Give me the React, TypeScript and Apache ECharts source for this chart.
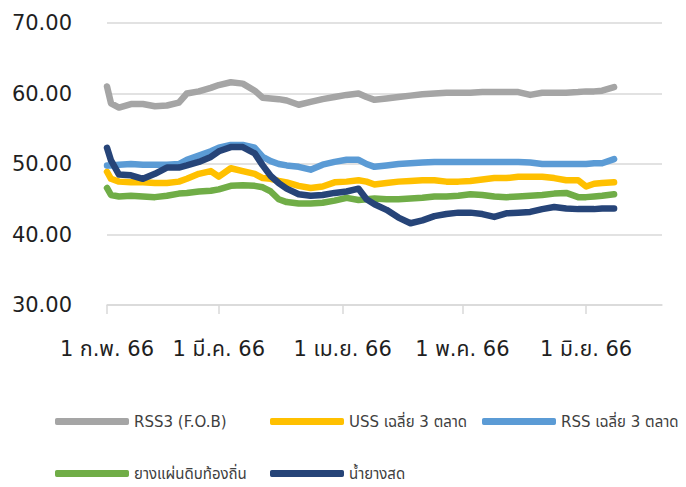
import React, { useEffect, useRef } from "react";
import * as echarts from "echarts";

const dates = [
  "2023-02-01", "2023-02-02", "2023-02-04", "2023-02-07", "2023-02-10", "2023-02-13",
  "2023-02-16", "2023-02-19", "2023-02-21", "2023-02-24", "2023-02-27", "2023-03-01",
  "2023-03-04", "2023-03-07", "2023-03-10", "2023-03-12", "2023-03-14", "2023-03-16",
  "2023-03-18", "2023-03-21", "2023-03-24", "2023-03-27", "2023-03-30", "2023-04-02",
  "2023-04-05", "2023-04-07", "2023-04-09", "2023-04-12", "2023-04-15", "2023-04-18",
  "2023-04-21", "2023-04-24", "2023-04-27", "2023-04-30", "2023-05-03", "2023-05-06",
  "2023-05-09", "2023-05-12", "2023-05-15", "2023-05-18", "2023-05-21", "2023-05-24",
  "2023-05-27", "2023-05-30", "2023-06-01", "2023-06-03", "2023-06-05", "2023-06-08",
];

const rss3Fob = [
  61.0, 58.6, 58.0, 58.5, 58.5, 58.2, 58.3, 58.7, 60.0, 60.3, 60.8, 61.2,
  61.6, 61.4, 60.4, 59.4, 59.3, 59.2, 59.0, 58.4, 58.8, 59.2, 59.5, 59.8,
  60.0, 59.5, 59.1, 59.3, 59.5, 59.7, 59.9, 60.0, 60.1, 60.1, 60.1, 60.2,
  60.2, 60.2, 60.2, 59.8, 60.1, 60.1, 60.1, 60.2, 60.3, 60.3, 60.4, 60.9,
];

const ussAvg = [
  48.9, 47.9, 47.5, 47.4, 47.4, 47.3, 47.3, 47.5, 47.9, 48.6, 49.0, 48.2,
  49.4, 49.0, 48.6, 48.0, 47.9, 47.6, 47.4, 46.9, 46.6, 46.8, 47.4, 47.5,
  47.7, 47.5, 47.1, 47.3, 47.5, 47.6, 47.7, 47.7, 47.5, 47.5, 47.6, 47.8,
  48.0, 48.0, 48.2, 48.2, 48.2, 48.0, 47.7, 47.7, 46.8, 47.2, 47.3, 47.4,
];

const rssAvg = [
  49.8, 49.8, 49.9, 50.0, 49.9, 49.9, 49.9, 50.0, 50.6, 51.2, 51.8, 52.3,
  52.7, 52.7, 52.3, 51.0, 50.4, 50.0, 49.8, 49.6, 49.2, 49.9, 50.3, 50.6,
  50.6, 50.0, 49.6, 49.8, 50.0, 50.1, 50.2, 50.3, 50.3, 50.3, 50.3, 50.3,
  50.3, 50.3, 50.3, 50.2, 50.0, 50.0, 50.0, 50.0, 50.0, 50.1, 50.1, 50.7,
];

const localSheet = [
  46.6, 45.6, 45.4, 45.5, 45.4, 45.3, 45.5, 45.8, 45.9, 46.1, 46.2, 46.4,
  46.9, 47.0, 46.9, 46.7, 46.1, 45.0, 44.6, 44.4, 44.4, 44.5, 44.8, 45.2,
  44.9, 45.0, 45.1, 45.0, 45.0, 45.1, 45.2, 45.4, 45.4, 45.5, 45.7, 45.6,
  45.4, 45.3, 45.4, 45.5, 45.6, 45.8, 45.9, 45.3, 45.3, 45.4, 45.5, 45.7,
];

const freshLatex = [
  52.3, 50.5, 48.5, 48.4, 47.9, 48.6, 49.5, 49.5, 49.8, 50.3, 51.0, 51.8,
  52.4, 52.4, 51.5, 49.8, 48.3, 47.3, 46.5, 45.7, 45.5, 45.6, 45.9, 46.1,
  46.5, 45.0, 44.3, 43.5, 42.4, 41.6, 42.0, 42.6, 42.9, 43.1, 43.1, 42.9,
  42.5, 43.0, 43.1, 43.2, 43.6, 43.9, 43.7, 43.6, 43.6, 43.6, 43.7, 43.7,
];

const seriesNames = [
  "RSS3 (F.O.B)",
  "USS เฉลี่ย 3 ตลาด",
  "RSS เฉลี่ย 3 ตลาด",
  "ยางแผ่นดิบท้องถิ่น",
  "น้ำยางสด",
];
const seriesColors = ["#a5a5a5", "#ffc000", "#5b9bd5", "#70ad47", "#264478"];
const seriesValues = [rss3Fob, ussAvg, rssAvg, localSheet, freshLatex];

const axisStart = "2023-02-01";
const axisEnd = "2023-06-20";
const tickDates = ["2023-02-01", "2023-03-01", "2023-04-01", "2023-05-01", "2023-06-01"];
const tickLabels = ["1 ก.พ. 66", "1 มี.ค. 66", "1 เม.ย. 66", "1 พ.ค. 66", "1 มิ.ย. 66"];

const yMin = 30;
const yMax = 70;
const yStep = 10;

const dayOf = (s: string) =>
  Math.round((Date.parse(s + "T00:00:00Z") - Date.parse(axisStart + "T00:00:00Z")) / 86400000);

const legendPos = [
  { left: 55, top: 414 },
  { left: 270, top: 414 },
  { left: 482, top: 414 },
  { left: 55, top: 466 },
  { left: 270, top: 466 },
];

const FONT = "'DejaVu Sans', Tahoma, 'Noto Sans', 'Noto Sans Thai', sans-serif";

export default function App() {
  const ref = useRef<HTMLDivElement>(null);
  useEffect(() => {
    if (!ref.current) return;
    const chart = echarts.init(ref.current, undefined, { renderer: "svg" });
    const tickDays = tickDates.map(dayOf);
    const xs = dates.map(dayOf);
    chart.setOption({
      animation: false,
      backgroundColor: "#ffffff",
      grid: { left: 107, right: 24, top: 23, bottom: 182, containLabel: false },
      xAxis: {
        type: "value",
        min: 0,
        max: dayOf(axisEnd),
        axisLine: { show: true, lineStyle: { color: "#d9d9d9", width: 1.5 } },
        axisTick: {
          show: true,
          customValues: tickDays,
          length: 9,
          lineStyle: { color: "#d9d9d9", width: 1.5 },
        },
        axisLabel: {
          customValues: tickDays,
          margin: 33,
          fontSize: 21,
          color: "#1f1f1f",
          fontFamily: FONT,
          formatter: (v: number) => {
            const i = tickDays.indexOf(Math.round(v));
            return i >= 0 ? tickLabels[i] : "";
          },
        },
        splitLine: { show: false },
      },
      yAxis: {
        type: "value",
        min: yMin,
        max: yMax,
        interval: yStep,
        axisLine: { show: false },
        axisTick: { show: false },
        axisLabel: {
          margin: 35,
          fontSize: 21,
          color: "#1f1f1f",
          fontFamily: FONT,
          formatter: (v: number) => v.toFixed(2),
        },
        splitLine: { show: true, lineStyle: { color: "#d9d9d9", width: 1.5 } },
      },
      legend: seriesNames.map((n, i) => ({
        data: [n],
        left: legendPos[i].left,
        top: legendPos[i].top,
        padding: 0,
        icon: "roundRect",
        itemWidth: 74,
        itemHeight: 7,
        textStyle: { fontSize: 15, color: "#404040", fontFamily: FONT },
        selectedMode: false,
      })),
      series: seriesNames.map((n, i) => ({
        name: n,
        type: "line",
        showSymbol: false,
        symbol: "none",
        color: seriesColors[i],
        lineStyle: { width: 6.5, color: seriesColors[i], cap: "round", join: "round" },
        data: xs.map((x, j) => [x, seriesValues[i][j]]),
      })),
    });
    return () => chart.dispose();
  }, []);
  return (
    <div
      ref={ref}
      style={{ position: "fixed", left: 0, top: 0, width: 686, height: 487, background: "#fff" }}
    />
  );
}
